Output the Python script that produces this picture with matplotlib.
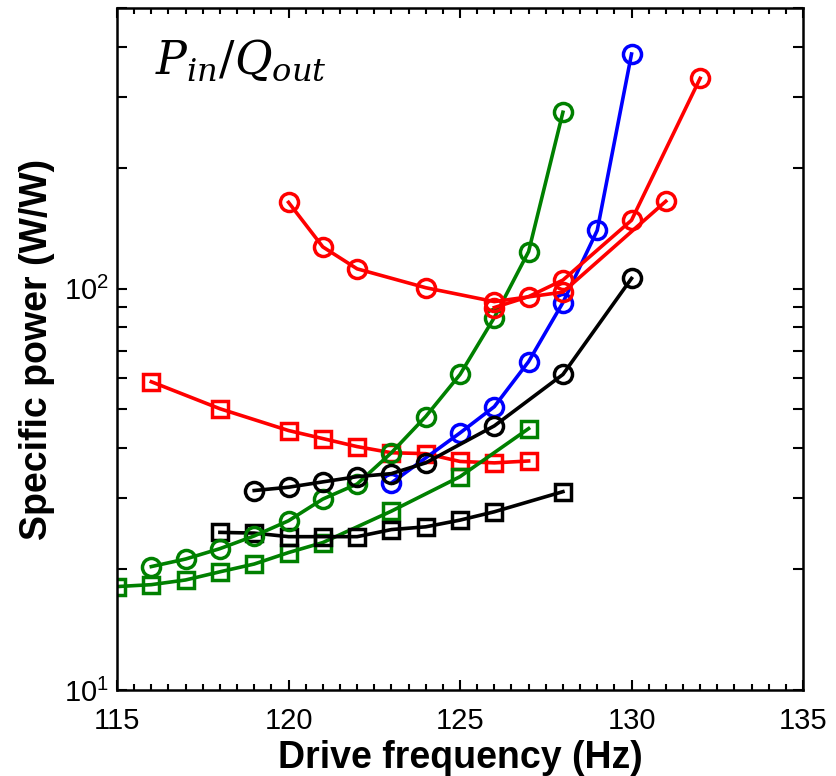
import matplotlib
matplotlib.use('Agg')
import matplotlib.pyplot as plt
from matplotlib.ticker import FixedLocator, FixedFormatter, MultipleLocator, NullFormatter
import numpy as np

plt.rcParams['font.family'] = ['Liberation Sans', 'DejaVu Sans']
plt.rcParams['mathtext.fontset'] = 'dejavuserif'

# Datos (frecuencia en Hz, potencia especifica en W/W)
f_red_sq = [116, 118, 120, 121, 122, 123, 124, 125, 126, 127]
p_red_sq = [58.6, 50.2, 44.3, 42.3, 40.4, 39.0, 38.8, 37.1, 36.8, 37.2]

f_green_sq = [115, 116, 117, 118, 119, 120, 121, 123, 125, 127]
p_green_sq = [18.1, 18.3, 18.8, 19.7, 20.6, 22.0, 23.3, 27.9, 34.0, 44.8]

f_black_sq = [118, 119, 120, 121, 122, 123, 124, 125, 126, 128]
p_black_sq = [24.7, 24.6, 24.1, 24.1, 24.1, 25.1, 25.5, 26.5, 27.8, 31.2]

f_blue = [123, 125, 126, 127, 128, 129, 130]
p_blue = [32.8, 43.7, 50.8, 65.8, 92.3, 139.6, 384]

f_green_c = [116, 117, 118, 119, 120, 121, 122, 123, 124, 125, 126, 127, 128]
p_green_c = [20.3, 21.2, 22.5, 24.2, 26.4, 29.9, 32.6, 39.0, 48.0, 61.1, 84.7, 123.7, 275]

f_black_c = [119, 120, 121, 122, 123, 124, 126, 128, 130]
p_black_c = [31.4, 32.0, 33.0, 34.0, 34.6, 36.8, 45.5, 61.1, 106]

f_red_c1 = [120, 121, 122, 124, 126, 128, 131]
p_red_c1 = [164, 127, 112, 100.5, 92.8, 98, 165]

f_red_c2 = [126, 127, 128, 130, 132]
p_red_c2 = [89.7, 95.5, 105, 148, 334]

fig = plt.figure(figsize=(8.37, 7.76), dpi=100)
ax = fig.add_axes([0.1398, 0.1108, 0.8196, 0.8789])

lw = 2.6
ms = 13
mew = 2.5
series = [
    (f_red_sq, p_red_sq, 'red', 's'),
    (f_green_sq, p_green_sq, 'green', 's'),
    (f_black_sq, p_black_sq, 'black', 's'),
    (f_blue, p_blue, 'blue', 'o'),
    (f_green_c, p_green_c, 'green', 'o'),
    (f_black_c, p_black_c, 'black', 'o'),
    (f_red_c1, p_red_c1, 'red', 'o'),
    (f_red_c2, p_red_c2, 'red', 'o'),
]
for fx, py, col, mk in series:
    ax.plot(fx, py, color=col, marker=mk, linewidth=lw, markersize=ms if mk == 'o' else ms - 1.5,
            markerfacecolor='none', markeredgewidth=mew, markeredgecolor=col)

ax.set_yscale('log')
ax.set_xlim(115, 135)
ax.set_ylim(10, 500)

ax.xaxis.set_major_locator(MultipleLocator(5))
ax.xaxis.set_minor_locator(MultipleLocator(0.5))
ax.yaxis.set_major_locator(FixedLocator([10, 100]))
ax.yaxis.set_major_formatter(FixedFormatter([r'$\mathregular{10^{1}}$', r'$\mathregular{10^{2}}$']))
minors = [k * d for d in (10, 100) for k in range(2, 10) if k * d <= 500]
ax.yaxis.set_minor_locator(FixedLocator(minors))
ax.yaxis.set_minor_formatter(NullFormatter())

ax.tick_params(which='both', direction='in', top=True, right=True, labelsize=21, width=1.5)
ax.tick_params(axis='x', which='major', length=7, pad=12)
ax.tick_params(axis='x', which='minor', length=4)
ax.tick_params(axis='y', which='both', length=7, pad=6)
for sp in ax.spines.values():
    sp.set_linewidth(1.8)

ax.set_xlabel('Drive frequency (Hz)', fontsize=27, fontweight='bold', labelpad=4)
ax.set_ylabel('Specific power (W/W)', fontsize=27, fontweight='bold', labelpad=6)

ax.text(0.055, 0.955, r'$P_{in}/Q_{out}$', transform=ax.transAxes, fontsize=33,
        ha='left', va='top')

plt.savefig('out.png', dpi=100, facecolor='white')
